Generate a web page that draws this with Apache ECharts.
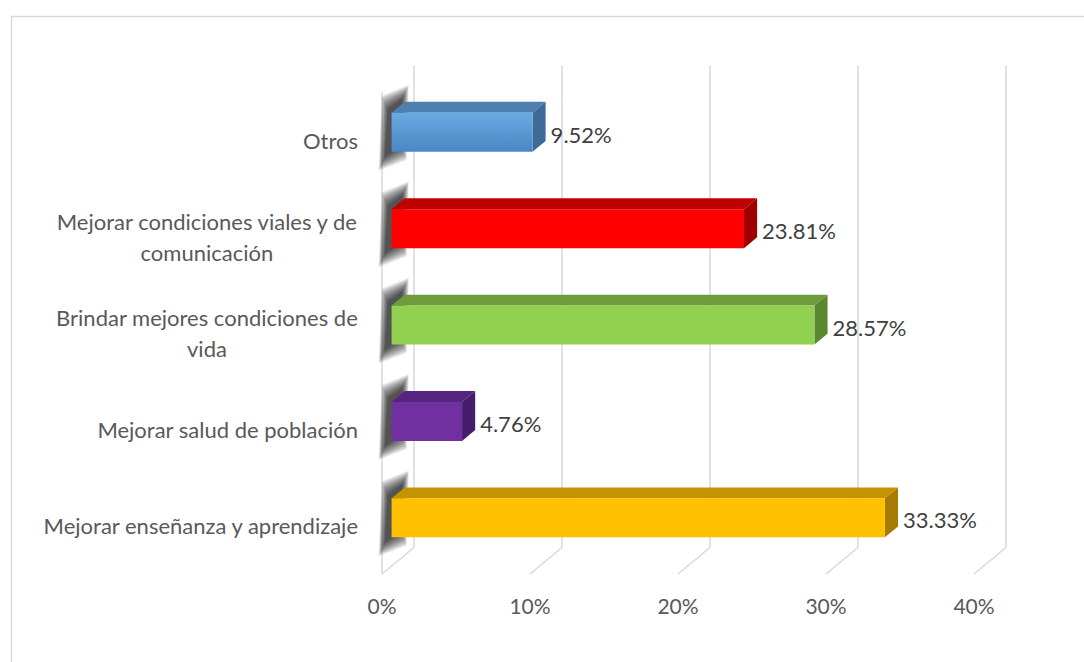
<!DOCTYPE html>
<html>
<head>
<meta charset="utf-8">
<script src="https://cdn.jsdelivr.net/npm/echarts@6/dist/echarts.min.js"></script>
<style>
html,body{margin:0;padding:0;background:#fff;}
#chart{width:1084px;height:662px;}
</style>
</head>
<body>
<div id="chart"></div>
<script>
// ---- data ----
const categories = [
  'Otros',
  'Mejorar condiciones viales y de\ncomunicación',
  'Brindar mejores condiciones de\nvida',
  'Mejorar salud de población',
  'Mejorar enseñanza y aprendizaje'
];
const values = [9.52, 23.81, 28.57, 4.76, 33.33];
const xTicks = [0, 10, 20, 30, 40];
const frontColors = ['#5B9BD5', '#FF0000', '#92D050', '#7030A0', '#FFC000'];
const topColors   = ['#4F7FAE', '#C00000', '#6E9C3C', '#552480', '#C49300'];
const sideColors  = ['#3E6A98', '#A00000', '#5B8731', '#461D6A', '#A67C00'];

// ---- 3D geometry (pixels per unit depth) ----
const DX = 32, DY = -26.5, D0 = 0.3, D1 = 0.71;

const chart = echarts.init(document.getElementById('chart'), null, {renderer: 'svg'});

function gridRender(params, api) {
  const v = api.value(0);
  const band = api.size([0, 1])[1];
  const pTop = api.coord([v, 0]);
  const pBot = api.coord([v, categories.length - 1]);
  const top = pTop[1] - band / 2;
  const bot = pBot[1] + band / 2;
  const x = pTop[0];
  const st = {stroke: '#D9D9D9', lineWidth: 1.5, fill: null};
  const children = [
    {type: 'line', shape: {x1: x + DX, y1: top + DY, x2: x + DX, y2: bot + DY}, style: st},
    {type: 'line', shape: {x1: x + DX, y1: bot + DY, x2: x, y2: bot}, style: st}
  ];
  if (v === 0) {
    children.push({type: 'line', shape: {x1: x, y1: top, x2: x, y2: bot}, style: st});
  }
  return {type: 'group', children: children};
}

function barRender(params, api) {
  const ci = api.value(0), v = api.value(1);
  const i = params.dataIndex;
  const p0 = api.coord([0, ci]);
  const p1 = api.coord([v, ci]);
  const band = api.size([0, 1])[1];
  const h = band * 0.405;
  const x0 = p0[0] + DX * D0;
  const x1 = p1[0] + DX * D0;
  const yc = p0[1] + DY * D0;
  const t = yc - h / 2, b = yc + h / 2;
  const bx = DX * (D1 - D0), by = DY * (D1 - D0);
  let frontFill = frontColors[i];
  if (i === 0) {
    frontFill = new echarts.graphic.LinearGradient(0, 0, 0, 1, [
      {offset: 0, color: '#6AAAE2'}, {offset: 1, color: '#4A87C5'}
    ]);
  }
  // soft shadow of the bar end on the left wall, built from stacked translucent layers
  const shadow = [];
  const N = 12;
  for (let k = 0; k < N; k++) {
    const f = 1 - k / N;
    const ex = 7 * f, ey = 15 * f;
    shadow.push({
      type: 'polygon',
      shape: {points: [
        [x0 - 3 - ex, t - 2 - ey], [x0 + bx - 3 + ex, t + by - 2 - ey],
        [x0 + bx - 5 + ex, b + by + 4 + ey], [x0 - 6 - ex, b + 4 + ey]
      ]},
      style: {fill: 'rgba(0,0,0,0.085)'}
    });
  }
  return {
    type: 'group',
    children: shadow.concat([
      {type: 'polygon', shape: {points: [[x0, t], [x1, t], [x1 + bx, t + by], [x0 + bx, t + by]]},
       style: {fill: topColors[i]}},
      {type: 'polygon', shape: {points: [[x1, t], [x1 + bx, t + by], [x1 + bx, b + by], [x1, b]]},
       style: {fill: sideColors[i]}},
      {type: 'rect', shape: {x: x0, y: t, width: x1 - x0, height: h},
       style: {fill: frontFill}},
      {type: 'text', x: x1 + bx + 5, y: yc + 2,
       style: {text: v.toFixed(2) + '%', fill: '#404040', font: '22px Lato', verticalAlign: 'middle', align: 'left'}}
    ])
  };
}

const labelFont = {color: '#595959', fontFamily: 'Lato', fontSize: 22, lineHeight: 31};

chart.setOption({
  backgroundColor: '#fff',
  animation: false,
  graphic: [{
    type: 'rect', left: 9, top: 14, shape: {width: 1100, height: 647},
    style: {fill: null, stroke: '#D9D9D9', lineWidth: 1.5}, silent: true
  }],
  grid: {left: 382, right: 110, top: 92, bottom: 88},
  xAxis: {
    type: 'value', min: 0, max: 40, interval: 10,
    axisLine: {show: false}, axisTick: {show: false}, splitLine: {show: false},
    axisLabel: {formatter: '{value}%', color: '#595959', fontFamily: 'Lato', fontSize: 21, margin: 21}
  },
  yAxis: {
    type: 'category', data: categories, inverse: true,
    axisLine: {show: false}, axisTick: {show: false}, splitLine: {show: false},
    axisLabel: Object.assign({}, labelFont, {
      margin: 24, align: 'right',
      formatter: function (val) {
        const lines = val.split('\n');
        if (lines.length === 1) return val;
        return lines.map(l => '{c|' + l + '}').join('\n');
      },
      rich: {c: Object.assign({}, labelFont, {align: 'center'})}
    })
  },
  series: [
    {type: 'custom', renderItem: gridRender, data: xTicks.map(v => [v]), encode: {x: 0}, silent: true, z: 1},
    {type: 'custom', renderItem: barRender, data: values.map((v, i) => [i, v]), encode: {y: 0, x: 1}, silent: true, z: 2}
  ]
});
</script>
</body>
</html>
